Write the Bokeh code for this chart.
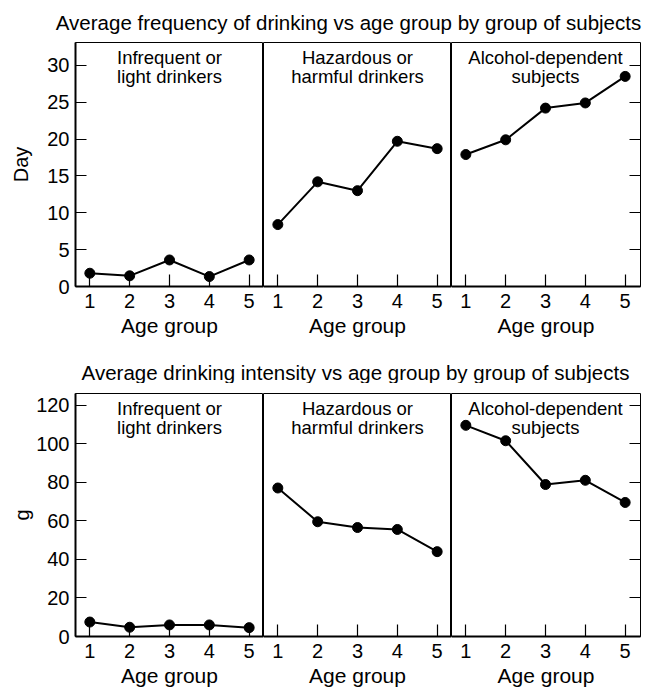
from bokeh.plotting import figure
from bokeh.models import Range1d, FixedTicker, LinearAxis, CustomJSTickFormatter, Label
from bokeh.layouts import column, row
from bokeh.embed import file_html
from bokeh.resources import INLINE

# ---------------- data ----------------
ages = [1, 2, 3, 4, 5]
group_line1 = ["Infrequent or", "Hazardous or", "Alcohol-dependent"]
group_line2 = ["light drinkers", "harmful drinkers", "subjects"]

freq_infrequent = [1.8, 1.45, 3.6, 1.35, 3.6]
freq_hazardous = [8.4, 14.2, 13.0, 19.7, 18.7]
freq_dependent = [17.9, 19.9, 24.2, 24.9, 28.5]

int_infrequent = [7.5, 4.8, 6.0, 6.0, 4.6]
int_hazardous = [77.0, 59.5, 56.5, 55.5, 44.0]
int_dependent = [109.5, 101.5, 78.8, 81.0, 69.5]

freq_ticks = [0, 5, 10, 15, 20, 25, 30]
int_ticks = [0, 20, 40, 60, 80, 100, 120]

title_freq = "Average frequency of drinking vs age group by group of subjects"
title_int = "Average drinking intensity vs age group by group of subjects"
xlabel = "Age group"

# ---------------- layout constants ----------------
FONT = "Liberation Sans"
XMIN, XMAX = 0.64, 5.36
FRAME_W = [188, 188, 189]
W = 654


def title_fig(text, height, cx, cy):
    t = figure(width=W, height=height, x_range=Range1d(0, W), y_range=Range1d(0, height),
               output_backend="svg", toolbar_location=None, min_border=0,
               background_fill_color="white", border_fill_color="white")
    t.axis.visible = False
    t.grid.visible = False
    t.outline_line_color = None
    t.add_layout(Label(x=cx, y=cy, text=text, text_align="center", text_baseline="middle",
                       text_font=FONT, text_font_size="20.5px", text_color="black"))
    return t


def panel(k, ylabel, ylabel_standoff, ymax, yticks, vals, frame_h, b_top, b_bottom):
    p = figure(frame_width=FRAME_W[k], frame_height=frame_h,
               x_range=Range1d(XMIN, XMIN + (XMAX - XMIN) * FRAME_W[k] / 188.0),
               y_range=Range1d(0, ymax),
               output_backend="svg", toolbar_location=None,
               min_border_left=75 if k == 0 else 0, min_border_right=14 if k == 2 else 0,
               min_border_top=b_top, min_border_bottom=b_bottom,
               background_fill_color="white", border_fill_color="white")
    p.grid.visible = False
    p.outline_line_color = "black"
    p.outline_line_width = 1.0

    p.xaxis.ticker = FixedTicker(ticks=ages)
    p.xaxis.major_tick_in = 12
    p.xaxis.major_tick_out = 0
    p.xaxis.minor_tick_line_color = None
    p.xaxis.axis_line_width = 2
    p.xaxis.major_tick_line_width = 1.2
    p.xaxis.major_label_text_font = FONT
    p.xaxis.major_label_text_font_size = "20px"
    p.xaxis.major_label_text_color = "black"
    p.xaxis.major_label_standoff = 7
    p.xaxis.axis_label = xlabel
    p.xaxis.axis_label_text_font = FONT
    p.xaxis.axis_label_text_font_size = "21px"
    p.xaxis.axis_label_text_font_style = "normal"
    p.xaxis.axis_label_text_color = "black"
    p.xaxis.axis_label_standoff = 3

    if k == 0:
        p.yaxis.ticker = FixedTicker(ticks=yticks)
        p.yaxis.major_tick_in = 11
        p.yaxis.major_tick_out = 0
        p.yaxis.minor_tick_line_color = None
        p.yaxis.axis_line_width = 2
        p.yaxis.major_tick_line_width = 1.2
        p.yaxis.major_label_text_font = FONT
        p.yaxis.major_label_text_font_size = "20px"
        p.yaxis.major_label_text_color = "black"
        p.yaxis.major_label_standoff = 6
        p.yaxis.axis_label = ylabel
        p.yaxis.axis_label_text_font = FONT
        p.yaxis.axis_label_text_font_size = "20px"
        p.yaxis.axis_label_text_font_style = "normal"
        p.yaxis.axis_label_text_color = "black"
        p.yaxis.axis_label_standoff = ylabel_standoff
    else:
        p.yaxis.visible = False

    if k == 2:
        ra = LinearAxis(ticker=FixedTicker(ticks=yticks),
                        formatter=CustomJSTickFormatter(code="return '';"),
                        major_tick_in=11, major_tick_out=0, major_tick_line_width=1.2,
                        minor_tick_line_color=None, axis_line_color=None,
                        major_label_standoff=0, major_label_text_font_size="1px")
        p.add_layout(ra, "right")

    p.line(ages, vals, line_color="black", line_width=2)
    p.scatter(ages, vals, size=10, fill_color="black", line_color="black")

    cx = (XMIN + XMAX) / 2
    p.add_layout(Label(x=cx, y=frame_h - 15, y_units="screen", text=group_line1[k],
                       text_align="center", text_baseline="middle",
                       text_font=FONT, text_font_size="18.5px", text_color="black"))
    p.add_layout(Label(x=cx, y=frame_h - 34, y_units="screen", text=group_line2[k],
                       text_align="center", text_baseline="middle",
                       text_font=FONT, text_font_size="18.5px", text_color="black"))
    return p


freq_series = [freq_infrequent, freq_hazardous, freq_dependent]
int_series = [int_infrequent, int_hazardous, int_dependent]

t1 = title_fig(title_freq, 34, 348, 12)
row1 = row(*[panel(k, "Day", 12, 33.1, freq_ticks, freq_series[k], 244, 8, 54) for k in range(3)],
           spacing=0)
t2 = title_fig(title_int, 43, 355, 11)
row2 = row(*[panel(k, "g", 0, 126, int_ticks, int_series[k], 243, 10, 52) for k in range(3)],
           spacing=0)

layout = column(t1, row1, t2, row2, spacing=0)
open("out.html", "w").write(file_html(layout, INLINE))
